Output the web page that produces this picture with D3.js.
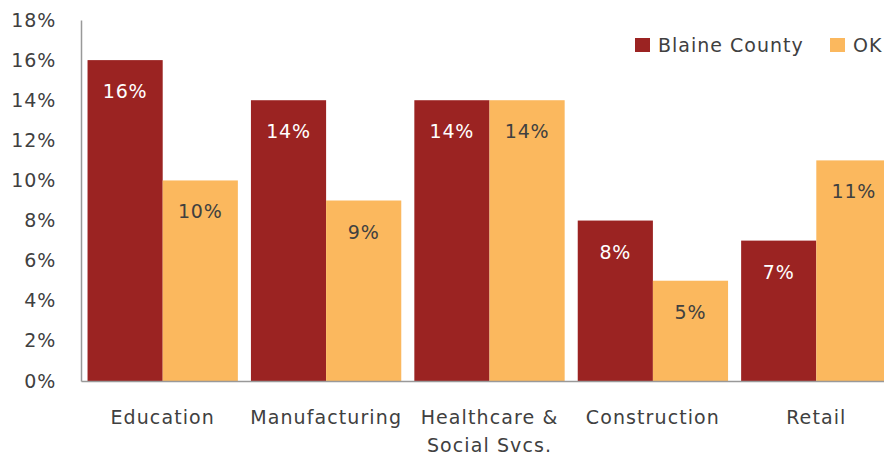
<!DOCTYPE html>
<html>
<head>
<meta charset="utf-8">
<script src="https://cdn.jsdelivr.net/npm/d3@7"></script>
<style>
  body { margin: 0; background: #fff; }
  text { font-family: "DejaVu Sans", sans-serif; }
</style>
</head>
<body>
<svg width="884" height="458"></svg>
<script>
const categories = [['Education'], ['Manufacturing'], ['Healthcare &', 'Social Svcs.'], ['Construction'], ['Retail']]
const seriesNames = ['Blaine County', 'OK']
const blaine = [16, 14, 14, 8, 7]
const ok = [10, 9, 14, 5, 11]
const yTicks = [0, 2, 4, 6, 8, 10, 12, 14, 16, 18]
const colors = ['#9b2322', '#fbb85e']

let svg = d3.select('svg'),
    margin = {top: 20, bottom: 77, left: 81, right: -14},
    width = svg.attr('width') - margin.left - margin.right,
    height = svg.attr('height') - margin.top - margin.bottom

let keys = categories.map(c => c.join(' '))
let data = keys.map((k, i) => ({key: k, values: [blaine[i], ok[i]]}))

let xScale = d3.scaleBand().domain(keys).range([margin.left, margin.left + width]).paddingInner(0.08).paddingOuter(0.04),
    xSub = d3.scaleBand().domain([0, 1]).range([0, xScale.bandwidth()]),
    yScale = d3.scaleLinear().domain([0, 18]).range([height + margin.top, margin.top])

//bars
let groups = svg.selectAll('g.cat')
    .data(data)
    .enter()
    .append('g')
    .attr('class', 'cat')
    .attr('transform', d => 'translate(' + xScale(d.key) + ',0)')

groups.selectAll('rect')
    .data(d => d.values)
    .enter()
    .append('rect')
    .attr('x', (d, i) => xSub(i))
    .attr('y', d => yScale(d))
    .attr('width', xSub.bandwidth())
    .attr('height', d => yScale(0) - yScale(d))
    .attr('fill', (d, i) => colors[i])

groups.selectAll('text.lbl')
    .data(d => d.values)
    .enter()
    .append('text')
    .attr('class', 'lbl')
    .attr('text-anchor', 'middle')
    .attr('x', (d, i) => xSub(i) + xSub.bandwidth() / 2)
    .attr('y', d => yScale(d) + 38)
    .attr('font-size', 19)
    .attr('letter-spacing', 0.8)
    .attr('fill', (d, i) => i == 0 ? '#fff' : '#404040')
    .text(d => d + '%')

//y axis
let yAxis = svg.append('g')
    .attr('transform', 'translate(' + margin.left + ',0)')
    .call(d3.axisLeft(yScale).tickValues(yTicks).tickSize(0).tickPadding(25).tickFormat(d => d + '%'))
yAxis.select('.domain').attr('stroke', '#999').attr('stroke-width', 1.5)
yAxis.selectAll('text').attr('font-size', 19).attr('letter-spacing', 0.8).attr('fill', '#404040').attr('font-family', '"DejaVu Sans", sans-serif')

//x axis
let xAxis = svg.append('g')
    .attr('transform', 'translate(0,' + (height + margin.top) + ')')
    .call(d3.axisBottom(xScale).tickSize(0).tickFormat(''))
xAxis.select('.domain').attr('stroke', '#999').attr('stroke-width', 1.5)
xAxis.selectAll('.tick').each(function (d, i) {
    let t = d3.select(this).append('text')
        .attr('text-anchor', 'middle')
        .attr('font-size', 19)
        .attr('letter-spacing', 1.1)
        .attr('fill', '#404040')
    categories[i].forEach((line, j) => {
        t.append('tspan').attr('x', 0).attr('y', 43 + j * 28).text(line)
    })
})

//legend
let legend = svg.append('g').attr('transform', 'translate(635,38)')
let legendX = [0, 195]
seriesNames.forEach((name, i) => {
    let g = legend.append('g').attr('transform', 'translate(' + legendX[i] + ',0)')
    g.append('rect').attr('width', 15).attr('height', 14).attr('fill', colors[i])
    g.append('text').attr('x', 23).attr('y', 14).attr('font-size', 19).attr('letter-spacing', 1.0).attr('fill', '#404040').text(name)
})
</script>
</body>
</html>
